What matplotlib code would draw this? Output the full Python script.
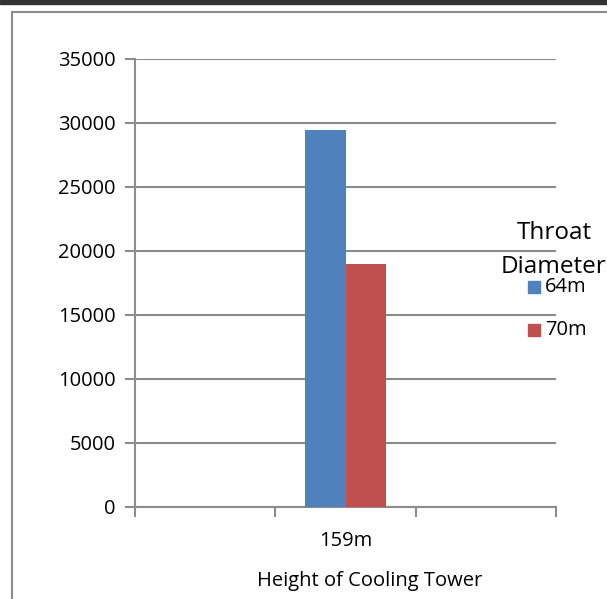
import matplotlib
matplotlib.use("Agg")
import matplotlib.pyplot as plt
from matplotlib.patches import Rectangle
import numpy as np

# values per throat diameter
categories = ['159m']
series_names = ['64m', '70m']
series_values = [[29400], [19000]]
series_colors = ['#4f81bd', '#c0504d']
yticks = [0, 5000, 10000, 15000, 20000, 25000, 30000, 35000]

plt.rcParams['font.family'] = ['Open Sans', 'DejaVu Sans']
grid_col = '#8c8c8c'

fig = plt.figure(figsize=(6.07, 5.99), dpi=100)
ax = fig.add_axes([0.2224, 0.1536, 0.6936, 0.7487])

bar_w = 0.286
x = np.arange(len(categories))
for i, (name, vals, col) in enumerate(zip(series_names, series_values, series_colors)):
    ax.bar(x + (i - 0.5) * bar_w, vals, width=bar_w, color=col, label=name, zorder=3)

ax.set_xlim(-1.5, 1.5)
ax.set_ylim(0, 35000)
ax.set_yticks(yticks)
ax.set_yticklabels([str(v) for v in yticks], fontsize=14.5)
ax.set_xticks([-1.5, -0.5, 0.5, 1.5])
ax.set_xticklabels([])
ax.set_xticks(x, minor=True)
ax.set_xticklabels(categories, minor=True, fontsize=14.5)
ax.tick_params(axis='x', which='minor', length=0, pad=17)
ax.tick_params(axis='x', which='major', length=7, width=1.5, color=grid_col, direction='out')
ax.tick_params(axis='y', length=7, width=1.5, color=grid_col, pad=7)
ax.yaxis.grid(True, color=grid_col, linewidth=1.5, zorder=0)
for side in ['top', 'right']:
    ax.spines[side].set_visible(False)
for side in ['left', 'bottom']:
    ax.spines[side].set_color(grid_col)
    ax.spines[side].set_linewidth(1.5)

fig.text(370 / 607, 1 - 581 / 599, 'Height of Cooling Tower', fontsize=14.5,
         ha='center', va='center')

# legend block on the right
fig.text(554 / 607, 1 - 233 / 599, 'Throat', fontsize=17.5, ha='center', va='center')
fig.text(501 / 607, 1 - 267 / 599, 'Diameter', fontsize=17.5, ha='left', va='center')
leg_y = [287, 330]
for name, col, ly in zip(series_names, series_colors, leg_y):
    fig.patches.append(Rectangle((528 / 607, 1 - (ly + 6) / 599), 12 / 607, 12 / 599,
                                 transform=fig.transFigure, color=col))
    fig.text(545 / 607, 1 - ly / 599, name, fontsize=14.5, ha='left', va='center')

# outer chart frame
fig.patches.append(Rectangle((12 / 607, -0.1), 1.0, 1 - 12 / 599 + 0.1,
                             transform=fig.transFigure, fill=False,
                             edgecolor='#8c8c8c', linewidth=1.5))
fig.patches.append(Rectangle((0, 1 - 4 / 599), 1.0, 4 / 599,
                             transform=fig.transFigure, color='#333333'))

fig.savefig('out.png', dpi=100)
